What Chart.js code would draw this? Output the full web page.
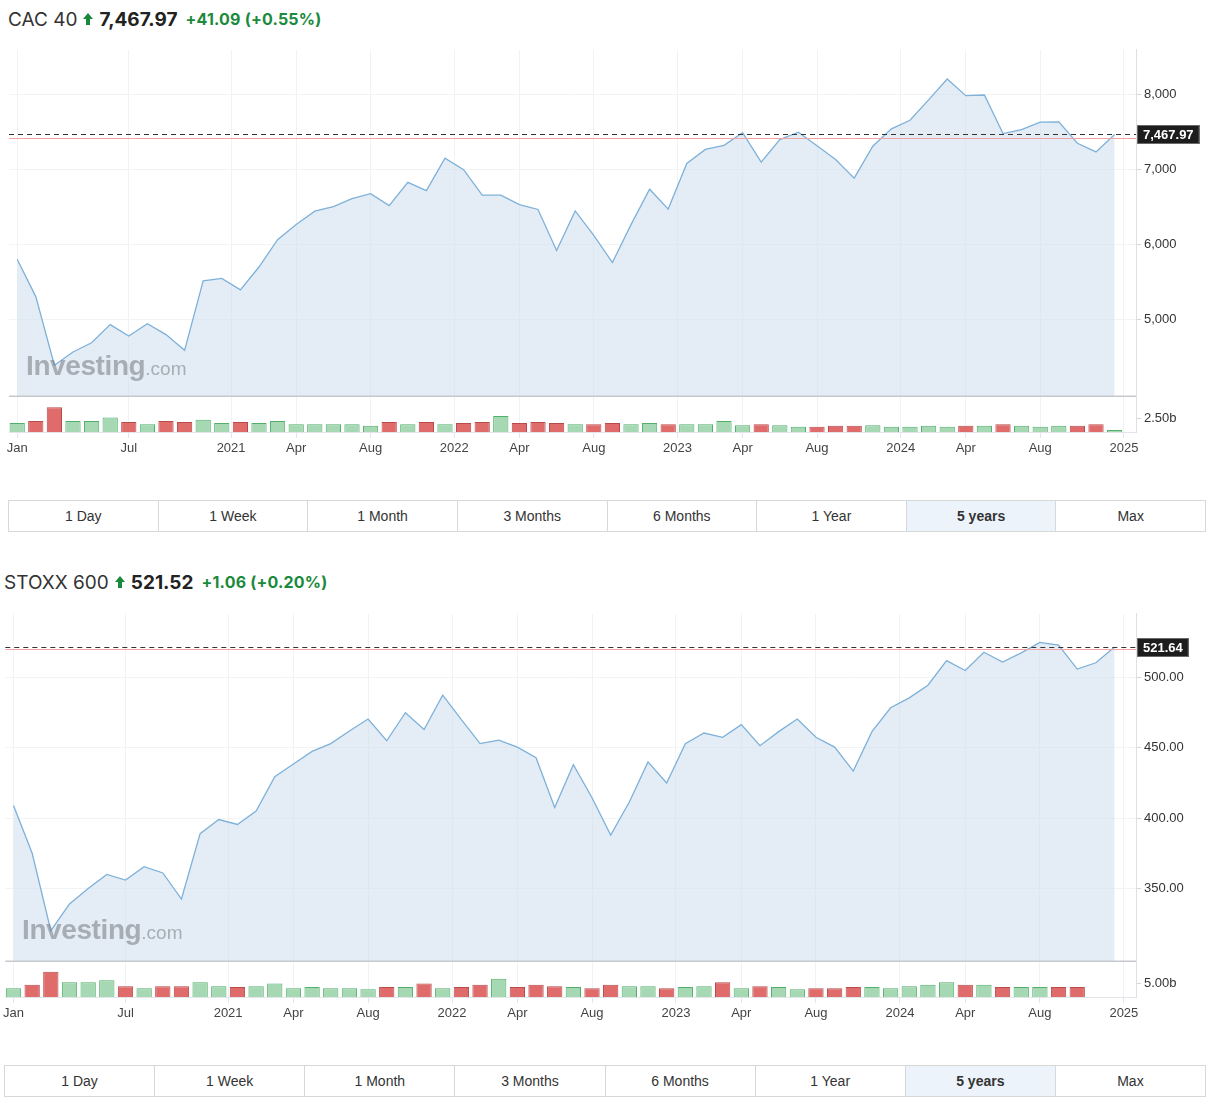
<!DOCTYPE html>
<html>
<head>
<meta charset="utf-8">
<script src="https://cdn.jsdelivr.net/npm/chart.js@4.4.1/dist/chart.umd.min.js"></script>
<style>
body { margin: 0; background: #fff; width: 1222px; height: 1108px; position: relative; overflow: hidden; font-family: "Liberation Sans", Arial, sans-serif; }
.head { position: absolute; height: 24px; display: flex; align-items: center; white-space: nowrap; font-family: Inter, "Liberation Sans", sans-serif; }
.head .name { font-size: 19px; color: #333; }
.head svg { margin: 0 6px; }
.head .last { font-size: 19px; font-weight: 700; color: #222; }
.head .chg { font-size: 16px; font-weight: 700; color: #1b8a3c; margin-left: 8px; letter-spacing: 0.2px; }
canvas { position: absolute; left: 0; }
.mark { position: absolute; white-space: nowrap; color: rgba(128,134,140,0.62); pointer-events: none; }
.mark b { font-size: 28px; letter-spacing: -0.4px; }
.mark span { font-size: 19px; }
.btns { position: absolute; height: 32px; display: flex; border: 1px solid #d8d8d8; box-sizing: border-box; }
.btns div { flex: 1; text-align: center; line-height: 30px; font-size: 14px; color: #333; border-left: 1px solid #d8d8d8; }
.btns div:first-child { border-left: none; }
.btns .on { background: #edf3fa; font-weight: 700; }
</style>
</head>
<body>

<div class="head" style="left:8px;top:7px">
  <span class="name">CAC 40</span>
  <svg width="10" height="12" viewBox="0 0 10 12"><polygon points="5,0 10,6 7,6 7,12 3,12 3,6 0,6" fill="#168a3a"/></svg>
  <span class="last">7,467.97</span>
  <span class="chg">+41.09 (+0.55%)</span>
</div>
<canvas id="cac" width="1222" height="425" style="top:39px"></canvas>
<div class="mark" style="left:26px;top:350px"><b>Investing</b><span>.com</span></div>
<div class="btns" style="left:8px;top:500px;width:1198px">
  <div>1 Day</div><div>1 Week</div><div>1 Month</div><div>3 Months</div><div>6 Months</div><div>1 Year</div><div class="on">5 years</div><div>Max</div>
</div>

<div class="head" style="left:4px;top:570px">
  <span class="name">STOXX 600</span>
  <svg width="10" height="12" viewBox="0 0 10 12"><polygon points="5,0 10,6 7,6 7,12 3,12 3,6 0,6" fill="#168a3a"/></svg>
  <span class="last">521.52</span>
  <span class="chg">+1.06 (+0.20%)</span>
</div>
<canvas id="stoxx" width="1222" height="426" style="top:603px"></canvas>
<div class="mark" style="left:22px;top:914px"><b>Investing</b><span>.com</span></div>
<div class="btns" style="left:4px;top:1065px;width:1202px">
  <div>1 Day</div><div>1 Week</div><div>1 Month</div><div>3 Months</div><div>6 Months</div><div>1 Year</div><div class="on">5 years</div><div>Max</div>
</div>

<script>
// monthly points, Jan 2020 .. Dec 2024
var xTickAt = [0, 6, 11.5, 15, 19, 23.5, 27, 31, 35.5, 39, 43, 47.5, 51, 55, 59.5];
var xTickLabels = ['Jan', 'Jul', '2021', 'Apr', 'Aug', '2022', 'Apr', 'Aug', '2023', 'Apr', 'Aug', '2024', 'Apr', 'Aug', '2025'];

var cacClose = [
  5806, 5309, 4396, 4572, 4695, 4936, 4784, 4947, 4803, 4594, 5518, 5551,
  5399, 5703, 6067, 6269, 6447, 6508, 6613, 6680, 6520, 6830, 6721, 7153,
  6999, 6659, 6660, 6534, 6469, 5923, 6449, 6125, 5763, 6267, 6739, 6474,
  7082, 7268, 7322, 7491, 7099, 7400, 7498, 7317, 7135, 6886, 7311, 7543,
  7657, 7928, 8206, 7985, 7993, 7479, 7531, 7631, 7636, 7351, 7235, 7467.97
];
// volume, billions
var cacVolume = [
  1.6, 1.96, 4.46, 1.96, 1.96, 2.62, 1.79, 1.38, 1.96, 1.79, 2.2, 1.6,
  1.79, 1.6, 1.96, 1.38, 1.38, 1.38, 1.38, 1.13, 1.79, 1.38, 1.79, 1.38,
  1.6, 1.79, 2.86, 1.6, 1.79, 1.6, 1.38, 1.38, 1.6, 1.38, 1.6, 1.38,
  1.38, 1.38, 1.96, 1.2, 1.38, 1.2, 0.95, 0.95, 1.13, 1.13, 1.2, 0.95,
  0.95, 1.13, 0.95, 1.13, 1.13, 1.38, 1.13, 0.95, 1.13, 1.13, 1.38, 0.36
];
var cacYTicks = [5000, 6000, 7000, 8000];
var cacVolTicks = [2.5];
var cacLast = 7467.97;
var cacPrev = 7426.88;

var stoxxClose = [
  409, 375, 320, 339, 350, 360, 356, 365.5, 361, 342.5, 389, 399,
  395.5, 405, 429.5, 438.5, 447.5, 453, 462, 470.5, 455, 475, 463, 487.5,
  470, 453, 455.5, 450.5, 443, 407.5, 438, 414.5, 388, 411.5, 440, 425,
  453, 460.5, 457.5, 466.5, 451.5, 461.5, 470.5, 457.5, 450.5, 433.5, 461.5, 478.5,
  485.5, 494.5, 512, 505, 518, 511, 517.5, 525, 523, 506, 510.5, 521.64
];
var stoxxVolume = [
  3.2, 4.5, 9.3, 5.4, 5.4, 6.2, 4.0, 3.2, 4.0, 4.0, 5.4, 4.0,
  3.7, 4.0, 5.0, 3.2, 3.7, 3.2, 3.2, 2.9, 3.7, 3.7, 5.0, 3.2,
  3.7, 4.5, 6.7, 3.7, 4.5, 4.0, 3.7, 3.2, 4.5, 4.0, 4.0, 3.2,
  3.7, 4.0, 5.4, 3.2, 4.0, 3.7, 2.9, 3.2, 3.2, 3.7, 3.7, 3.2,
  4.0, 4.5, 5.4, 4.5, 4.5, 3.7, 3.7, 3.7, 3.7, 3.7, null, null
];
var stoxxYTicks = [350, 400, 450, 500];
var stoxxVolTicks = [5];
var stoxxLast = 521.64;
var stoxxPrev = 520.46;

var FONT = '"Liberation Sans", Arial, sans-serif';

var levelsPlugin = {
    id: 'levels',
    afterDatasetsDraw: function (chart, args, opt) {
        var ctx = chart.ctx, a = chart.chartArea, y = chart.scales.y;
        ctx.save();
        ctx.strokeStyle = '#c5c9ce';
        ctx.lineWidth = 1.5;
        ctx.beginPath();
        ctx.moveTo(a.left, y.bottom);
        ctx.lineTo(a.right, y.bottom);
        ctx.stroke();

        ctx.lineWidth = 1;
        var py = Math.round(y.getPixelForValue(opt.prev)) + 0.5;
        ctx.strokeStyle = '#f3a3a3';
        ctx.beginPath();
        ctx.moveTo(a.left, py);
        ctx.lineTo(a.right, py);
        ctx.stroke();

        var ly = Math.round(y.getPixelForValue(opt.last)) + 0.5;
        ctx.strokeStyle = '#333';
        ctx.setLineDash([5, 4]);
        ctx.beginPath();
        ctx.moveTo(a.left, ly);
        ctx.lineTo(a.right, ly);
        ctx.stroke();
        ctx.restore();
    },
    afterDraw: function (chart, args, opt) {
        var ctx = chart.ctx, a = chart.chartArea, y = chart.scales.y;
        var ly = Math.round(y.getPixelForValue(opt.last));
        ctx.save();
        ctx.font = 'bold 13px ' + FONT;
        var w = ctx.measureText(opt.text).width + 12;
        ctx.fillStyle = '#1d1d1d';
        ctx.fillRect(a.right + 1, ly - 9, w, 19);
        ctx.strokeStyle = '#6a6a6a';
        ctx.lineWidth = 1;
        ctx.strokeRect(a.right + 1.5, ly - 8.5, w - 1, 18);
        ctx.fillStyle = '#fff';
        ctx.textBaseline = 'middle';
        ctx.fillText(opt.text, a.right + 7, ly + 1);
        ctx.restore();
    }
};

function drawPanel(id, close, volume, yTicks, yMin, yMax, volTicks, volMax, last, prev, fmt, leftPad) {
    var colors = close.map(function (c, i) { return i === 0 || c >= close[i - 1]; });
    var tickFont = { size: 13, family: FONT };
    return new Chart(document.getElementById(id), {
        type: 'line',
        data: {
            datasets: [{
                type: 'line',
                data: close.map(function (c, i) { return { x: i, y: c }; }),
                yAxisID: 'y',
                borderColor: '#7eb1d9',
                borderWidth: 1.3,
                backgroundColor: 'rgba(205,222,238,0.55)',
                fill: 'start',
                pointRadius: 0,
                tension: 0
            }, {
                type: 'bar',
                data: volume.map(function (v, i) { return { x: i, y: v }; }),
                yAxisID: 'v',
                backgroundColor: colors.map(function (u) { return u ? '#a6d8b3' : '#e06b6b'; }),
                borderColor: colors.map(function (u) { return u ? '#4faf6b' : '#b84a4a'; }),
                borderWidth: 1,
                barPercentage: 0.82,
                categoryPercentage: 1
            }]
        },
        options: {
            responsive: false,
            animation: false,
            devicePixelRatio: 1,
            layout: { padding: { left: leftPad, top: 8, right: 0, bottom: 0 } },
            plugins: {
                legend: { display: false },
                tooltip: { enabled: false },
                levels: { last: last, prev: prev, text: fmt(last) }
            },
            scales: {
                x: {
                    type: 'linear',
                    min: -0.44,
                    max: 60.15,
                    offset: false,
                    afterBuildTicks: function (s) { s.ticks = xTickAt.map(function (v) { return { value: v }; }); },
                    afterFit: function (s) { s.height = 32; },
                    grid: { color: '#f0f2f5', offset: false, tickLength: 6, tickColor: '#e2e5e9' },
                    border: { color: '#e2e5e9' },
                    ticks: {
                        autoSkip: false, maxRotation: 0, padding: 3, color: '#444', font: tickFont,
                        callback: function (v, i) { return xTickLabels[i]; }
                    }
                },
                y: {
                    position: 'right',
                    stack: 'panel',
                    stackWeight: 349,
                    min: yMin,
                    max: yMax,
                    afterBuildTicks: function (s) { s.ticks = yTicks.map(function (v) { return { value: v }; }); },
                    afterFit: function (s) { s.width = 86; },
                    grid: { color: '#f2f3f4', tickLength: 5, tickColor: '#d4d8dc' },
                    border: { color: '#dde1e6' },
                    ticks: { padding: 3, color: '#333', font: tickFont, callback: fmt }
                },
                v: {
                    position: 'right',
                    stack: 'panel',
                    stackWeight: 36,
                    min: 0,
                    max: volMax,
                    afterBuildTicks: function (s) { s.ticks = volTicks.map(function (v) { return { value: v }; }); },
                    afterFit: function (s) { s.width = 86; },
                    grid: { drawOnChartArea: false, tickLength: 5, tickColor: '#d4d8dc' },
                    border: { color: '#dde1e6' },
                    ticks: { padding: 3, color: '#333', font: tickFont, callback: function (v) { return v.toFixed(2) + 'b'; } }
                }
            }
        },
        plugins: [levelsPlugin]
    });
}

function comma(v) { return v.toLocaleString('en-US', { maximumFractionDigits: 2 }); }
function two(v) { return v.toFixed(2); }

drawPanel('cac', cacClose, cacVolume, cacYTicks, 3982, 8595, cacVolTicks, 6.43, cacLast, cacPrev, comma, 9);
drawPanel('stoxx', stoxxClose, stoxxVolume, stoxxYTicks, 298.3, 545.3, stoxxVolTicks, 13.2, stoxxLast, stoxxPrev, two, 4);
</script>
</body>
</html>
